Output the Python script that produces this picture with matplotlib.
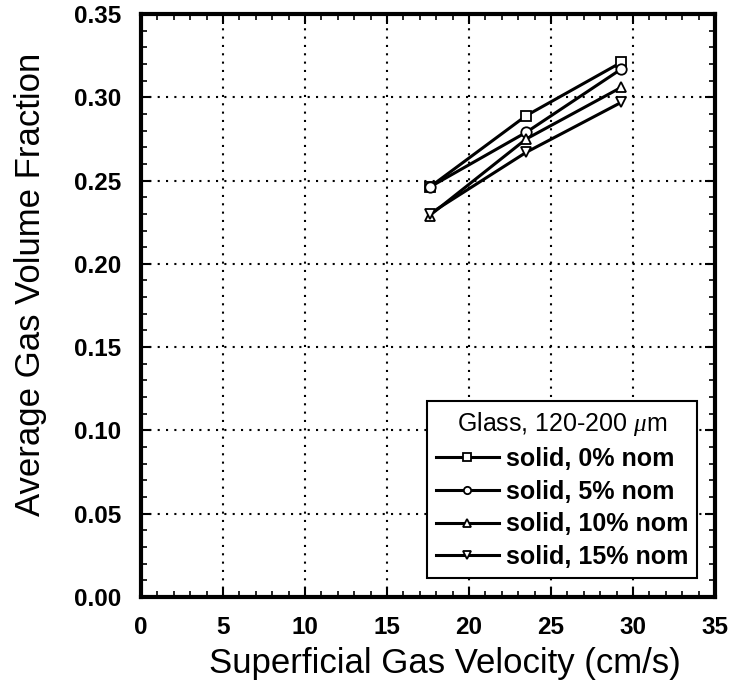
import matplotlib
matplotlib.use("Agg")
import matplotlib.pyplot as plt
from matplotlib.ticker import MultipleLocator, FormatStrFormatter

plt.rcParams['font.family'] = ['Liberation Sans', 'DejaVu Sans']
plt.rcParams['mathtext.fontset'] = 'custom'
plt.rcParams['mathtext.it'] = 'Liberation Serif:italic'

velocity = [17.6, 23.5, 29.3]
solid_0 = [0.246, 0.289, 0.321]
solid_5 = [0.246, 0.279, 0.317]
solid_10 = [0.229, 0.275, 0.306]
solid_15 = [0.230, 0.267, 0.297]
labels = ["solid, 0% nom", "solid, 5% nom", "solid, 10% nom", "solid, 15% nom"]
markers = ["s", "o", "^", "v"]
series = [solid_0, solid_5, solid_10, solid_15]

fig = plt.figure(figsize=(7.33, 6.86), dpi=100)
ax = fig.add_axes([0.1924, 0.1297, 0.783, 0.850])

for ys, m, lab in zip(series, markers, labels):
    ax.plot(velocity, ys, color='black', lw=2.2, marker=m, ms=7.5,
            mfc='white', mec='black', mew=1.3, label=lab)

ax.set_xlim(0, 35)
ax.set_ylim(0, 0.35)
ax.xaxis.set_major_locator(MultipleLocator(5))
ax.xaxis.set_minor_locator(MultipleLocator(1))
ax.yaxis.set_major_locator(MultipleLocator(0.05))
ax.yaxis.set_minor_locator(MultipleLocator(0.01))
ax.yaxis.set_major_formatter(FormatStrFormatter('%.2f'))

ax.grid(True, which='major', color='black', linestyle=(0, (1, 3)), lw=1.5)
ax.tick_params(which='both', direction='in', top=True, right=True, colors='black')
ax.tick_params(which='major', length=7, width=1.5, labelsize=17.5)
ax.tick_params(axis='y', which='major', pad=14)
ax.tick_params(axis='x', which='major', pad=14)
ax.tick_params(which='minor', length=4, width=1.2)
for lab in ax.get_xticklabels() + ax.get_yticklabels():
    lab.set_fontweight('bold')
for sp in ax.spines.values():
    sp.set_linewidth(3)

ax.set_xlabel("Superficial Gas Velocity (cm/s)", fontsize=25)
ax.set_ylabel("Average Gas Volume Fraction", fontsize=25)
ax.xaxis.set_label_coords(0.53, -0.086)
ax.yaxis.set_label_coords(-0.164, 0.537)

leg = ax.legend(title="Glass, 120-200 $\\mu$m", loc='lower right',
                bbox_to_anchor=(0.969, 0.033), fancybox=False, framealpha=1,
                edgecolor='black', prop={'weight': 'bold', 'size': 18},
                title_fontproperties={'size': 18},
                markerscale=0.7, handlelength=2.5, handletextpad=0.3,
                labelspacing=0.35, borderpad=0.35, borderaxespad=0)
leg.get_frame().set_linewidth(1.5)

fig.savefig("out.png", dpi=100)
